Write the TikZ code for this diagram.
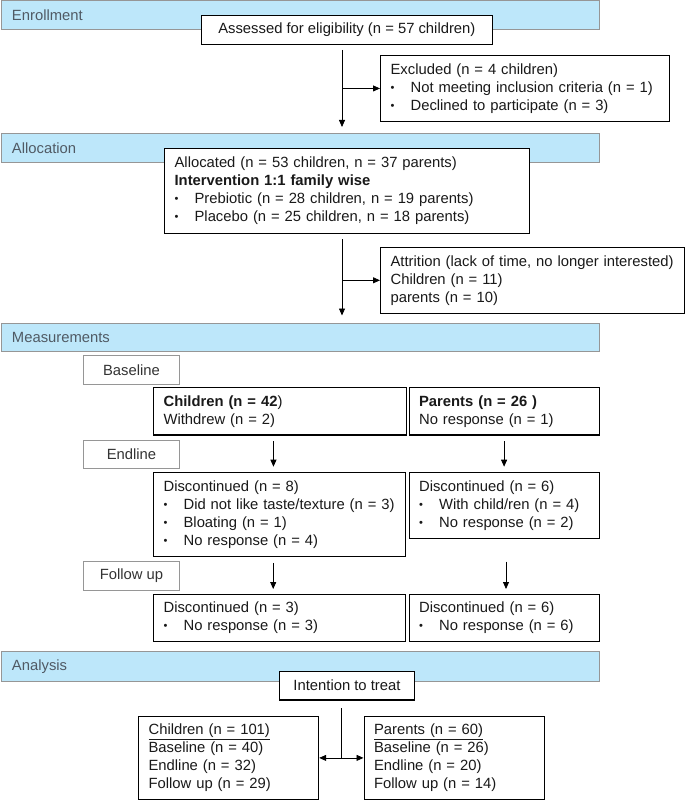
\documentclass[tikz,border=0pt]{standalone}
\usepackage{fontspec}
\setmainfont{Liberation Sans}
\usetikzlibrary{arrows.meta}
\definecolor{bandblue}{RGB}{189,231,250}
\definecolor{bandgray}{RGB}{150,150,150}
\definecolor{labgray}{RGB}{80,90,100}
\newcommand{\itm}[1]{\makebox[20pt][l]{\raisebox{0.15ex}{\scalebox{0.75}{\textbullet}}}#1}

\begin{document}
\begin{tikzpicture}[x=1pt,y=-1pt,font=\fontsize{14.8}{18}\selectfont,
    band/.style={draw=bandgray,fill=bandblue,line width=1pt,anchor=north west,
        minimum height=29pt,inner xsep=11pt,text width=576pt,align=left,text=labgray},
    box/.style={draw,line width=1.2pt,fill=white,anchor=north west,inner xsep=10pt,
        inner ysep=0pt,align=left,text=black!90},
    stage/.style={draw=bandgray,line width=1pt,fill=white,anchor=north west,
        minimum width=96pt,minimum height=28.5pt,inner sep=0pt,text=black!80},
    arr/.style={-{Triangle[length=7pt,width=6pt]},line width=0.8pt}]
    \useasboundingbox (0,0) rectangle (685,802);
    % enrollment
    \node[band] (enrol) at (0.5,0.5) {Enrollment};
    \node[box,minimum width=290.5pt,minimum height=29.3pt,align=center] (assess) at (201,14.7) {Assessed for eligibility (n = 57 children)};
    \node[box,text width=268.5pt,minimum height=65.7pt] (excl) at (380,55) {Excluded (n = 4 children)\\
        \itm{Not meeting inclusion criteria (n = 1)}\\
        \itm{Declined to participate (n = 3)}};
    % allocation
    \node[band] (alloc) at (0.5,133) {Allocation};
    \node[box,text width=344.5pt,minimum height=84.5pt] (allocated) at (164,148) {Allocated (n = 53 children, n = 37 parents)\\
        \textbf{Intervention 1:1 family wise}\\
        \itm{Prebiotic (n = 28 children, n = 19 parents)}\\
        \itm{Placebo (n = 25 children, n = 18 parents)}};
    \node[box,text width=283.5pt,minimum height=66pt] (attr) at (380,246.7) {Attrition (lack of time, no longer interested)\\
        Children (n = 11)\\
        parents (n = 10)};
    % measurements
    \node[band,minimum height=28pt] (meas) at (0.5,322.5) {Measurements};
    \coordinate (s1) at (342,50);
    \coordinate (s2) at (342,239);
    \draw[arr,shorten >=6pt] (s1) -- (s1 |- alloc.north);
    \draw[arr] (s1 |- excl.west) -- (excl.west);
    \draw[arr,shorten >=7pt] (s2) -- (s2 |- meas.north);
    \draw[arr] (s2 |- attr.west) -- (attr.west);
    \node[stage] (base) at (83,355) {Baseline};
    \node[box,text width=232.5pt,minimum height=47.3pt] (chbase) at (153,387) {\textbf{Children (n = 42})\\
        Withdrew (n = 2)};
    \node[box,text width=170pt,minimum height=47.3pt] (pabase) at (408.5,387) {\textbf{Parents (n = 26 )}\\
        No response (n = 1)};
    \node[stage] (endl) at (83,439.5) {Endline};
    \node[box,text width=232pt,minimum height=84pt] (chend) at (153,472) {Discontinued (n = 8)\\
        \itm{Did not like taste/texture (n = 3)}\\
        \itm{Bloating (n = 1)}\\
        \itm{No response (n = 4)}};
    \node[box,text width=170pt,minimum height=65.7pt] (paend) at (408.5,472) {Discontinued (n = 6)\\
        \itm{With child/ren (n = 4)}\\
        \itm{No response (n = 2)}};
    \node[stage] (follow) at (83,561) {Follow up};
    \node[box,text width=231.5pt,minimum height=46.7pt] (chfu) at (153,594) {Discontinued (n = 3)\\
        \itm{No response (n = 3)}};
    \node[box,text width=170pt,minimum height=46.7pt] (pafu) at (408.5,594) {Discontinued (n = 6)\\
        \itm{No response (n = 6)}};
    \draw[arr,shorten <=5.7pt,shorten >=5.3pt] ([xshift=-6.4pt]chbase.south) -- ([xshift=-6.4pt]chbase.south |- chend.north);
    \draw[arr,shorten <=5.7pt,shorten >=5.3pt] (pabase.south) -- (pabase.south |- paend.north);
    \draw[arr,shorten <=5.7pt,shorten >=5pt] ([xshift=-6.4pt]chend.south) -- ([xshift=-6.4pt]chend.south |- chfu.north);
    \coordinate (p1) at (506,561.5);
    \draw[arr,shorten >=5pt] (p1) -- (p1 |- pafu.north);
    % analysis
    \node[band,minimum height=29.5pt] (anal) at (0.5,651) {Analysis};
    \node[box,minimum width=135.3pt,minimum height=28.6pt,align=center] (itt) at (278.7,670.7) {Intention to treat};
    \node[box,text width=160pt,minimum height=83.6pt] (chall) at (138,715.5) {\underline{Children (n = 101)}\\
        Baseline (n = 40)\\
        Endline (n = 32)\\
        Follow up (n = 29)};
    \node[box,text width=160.5pt,minimum height=83.6pt] (paall) at (363.5,715.5) {\underline{Parents (n = 60)}\\
        Baseline (n = 26)\\
        Endline (n = 20)\\
        Follow up (n = 14)};
    \coordinate (t1) at (341.6,708);
    \draw[line width=0.8pt] (t1) -- (t1 |- chall.east);
    \draw[arr] (t1 |- chall.east) -- (chall.east);
    \draw[arr] (t1 |- paall.west) -- (paall.west);
\end{tikzpicture}
\end{document}
